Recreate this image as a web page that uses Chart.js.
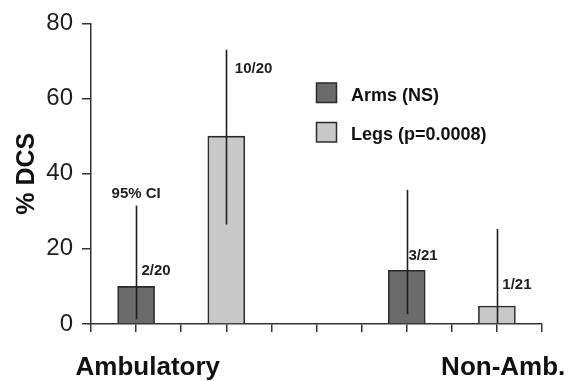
<!DOCTYPE html>
<html>
<head>
<meta charset="utf-8">
<script src="https://cdn.jsdelivr.net/npm/chart.js@4/dist/chart.umd.min.js"></script>
<style>
  html, body { margin: 0; padding: 0; background: #ffffff; }
  #wrap { width: 574px; height: 381px; position: relative; }
</style>
</head>
<body>
<div id="wrap"><canvas id="c" width="574" height="381"></canvas></div>
<script>
// ---- data ----
const groups = ['Ambulatory', 'Non-Amb.'];
const seriesNames = ['Arms (NS)', 'Legs (p=0.0008)'];
const armsValues = [10, 14.3];
const legsValues = [50, 4.8];
const armsCiLow = [1.2, 2.6];
const armsCiHigh = [31.5, 35.7];
const legsCiLow = [26.5, 0.2];
const legsCiHigh = [73, 25.3];
const armsCounts = ['2/20', '3/21'];
const legsCounts = ['10/20', '1/21'];
const ciNote = '95% CI';
const yTicks = [0, 20, 40, 60, 80];

// ---- layout helpers (x positions on a 0..10 linear axis) ----
const groupStride = 6;
const armsOffset = 1, legsOffset = 3;
const armsX = groups.map((g, i) => i * groupStride + armsOffset);
const legsX = groups.map((g, i) => i * groupStride + legsOffset);

const FONT = "'Liberation Sans', Arial, Helvetica, sans-serif";
const ARMS_COLOR = '#6b6b6b';
const LEGS_COLOR = '#c8c8c8';
const INK = '#1e1e1e';

// annotation anchors in data units (left edge, vertical middle)
const countAnchors = {
  arms: [{dx: 0.12, y: 14.1}, {dx: 0.04, y: 18.2}],
  legs: [{dx: 0.19, y: 67.9}, {dx: 0.12, y: 10.5}]
};
const ciNoteAnchor = {x: 0.456, y: 34.7};
const groupLabelX = [1.26, 9.14];

const overlay = {
  id: 'overlay',
  afterDatasetsDraw(chart) {
    const ctx = chart.ctx;
    const xs = chart.scales.x, ys = chart.scales.y;
    ctx.save();
    // error bars (plain vertical lines)
    ctx.strokeStyle = INK;
    ctx.lineWidth = 1.6;
    const drawCi = (xv, lo, hi) => {
      const px = Math.round(xs.getPixelForValue(xv)) + 0.5;
      ctx.beginPath();
      ctx.moveTo(px, ys.getPixelForValue(hi));
      ctx.lineTo(px, ys.getPixelForValue(lo));
      ctx.stroke();
    };
    armsX.forEach((x, i) => drawCi(x, armsCiLow[i], armsCiHigh[i]));
    legsX.forEach((x, i) => drawCi(x, legsCiLow[i], legsCiHigh[i]));

    // count labels
    ctx.fillStyle = INK;
    ctx.font = 'bold 15px ' + FONT;
    ctx.textAlign = 'left';
    ctx.textBaseline = 'middle';
    armsX.forEach((x, i) => {
      const a = countAnchors.arms[i];
      ctx.fillText(armsCounts[i], xs.getPixelForValue(x + a.dx), ys.getPixelForValue(a.y));
    });
    legsX.forEach((x, i) => {
      const a = countAnchors.legs[i];
      ctx.fillText(legsCounts[i], xs.getPixelForValue(x + a.dx), ys.getPixelForValue(a.y));
    });
    ctx.fillText(ciNote, xs.getPixelForValue(ciNoteAnchor.x), ys.getPixelForValue(ciNoteAnchor.y));

    // group labels below the axis
    ctx.fillStyle = '#111';
    ctx.font = 'bold 26px ' + FONT;
    ctx.textAlign = 'center';
    ctx.textBaseline = 'alphabetic';
    groups.forEach((g, i) => {
      ctx.fillText(g, xs.getPixelForValue(groupLabelX[i]), chart.chartArea.bottom + 51);
    });

    // legend
    const lx = xs.getPixelForValue(5.0);
    const rows = [ {name: seriesNames[0], color: ARMS_COLOR, top: 83},
                   {name: seriesNames[1], color: LEGS_COLOR, top: 122.5} ];
    ctx.font = 'bold 18px ' + FONT;
    ctx.textAlign = 'left';
    ctx.textBaseline = 'middle';
    rows.forEach(r => {
      ctx.fillStyle = r.color;
      ctx.fillRect(lx, r.top, 20, 19.5);
      ctx.strokeStyle = '#2a2a2a';
      ctx.lineWidth = 1.5;
      ctx.strokeRect(lx, r.top, 20, 19.5);
      ctx.fillStyle = '#111';
      ctx.fillText(r.name, lx + 34.5, r.top + 13);
    });
    ctx.restore();
  }
};

new Chart(document.getElementById('c'), {
  type: 'bar',
  data: {
    datasets: [
      { label: seriesNames[0], data: armsX.map((x, i) => ({x: x, y: armsValues[i]})),
        backgroundColor: ARMS_COLOR, borderColor: '#2a2a2a', borderWidth: 1.6,
        barThickness: 37, grouped: false },
      { label: seriesNames[1], data: legsX.map((x, i) => ({x: x, y: legsValues[i]})),
        backgroundColor: LEGS_COLOR, borderColor: '#2a2a2a', borderWidth: 1.6,
        barThickness: 37, grouped: false }
    ]
  },
  options: {
    responsive: false,
    animation: false,
    events: [],
    layout: { padding: { top: 20, right: 32, left: 0, bottom: 0 } },
    plugins: { legend: { display: false }, tooltip: { enabled: false }, title: { display: false } },
    scales: {
      x: {
        type: 'linear', min: 0, max: 10, offset: false,
        afterFit(s) { s.height = 57; },
        afterBuildTicks(s) { s.ticks = [0,1,2,3,4,5,6,7,8,9,10].map(v => ({value: v})); },
        grid: { display: true, drawOnChartArea: false, drawTicks: true, tickLength: 8,
                color: '#333', lineWidth: 1.5, offset: false },
        border: { display: true, color: '#333', width: 1.5 },
        ticks: { callback: () => '', font: { size: 10 } }
      },
      y: {
        min: 0, max: 80,
        afterFit(s) { s.width = 91; },
        afterBuildTicks(s) { s.ticks = yTicks.map(v => ({value: v})); },
        grid: { display: true, drawOnChartArea: false, drawTicks: true, tickLength: 9,
                color: '#333', lineWidth: 1.5 },
        border: { display: true, color: '#333', width: 1.5 },
        ticks: { color: INK, padding: 9, font: { family: FONT, size: 24 } },
        title: { display: true, text: '% DCS', color: '#111',
                 font: { family: FONT, size: 25, weight: 'bold' }, padding: { top: 12, bottom: 0 } }
      }
    }
  },
  plugins: [overlay]
});
</script>
</body>
</html>
